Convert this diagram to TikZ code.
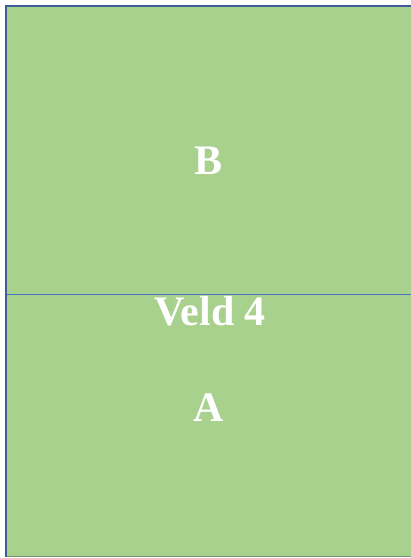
\documentclass[tikz,border=0pt]{standalone}
\usepackage{fontspec}
\setmainfont{Liberation Serif}
\definecolor{fieldgreen}{RGB}{169,209,142}
\definecolor{edgeblue}{RGB}{62,92,152}
\definecolor{splitblue}{RGB}{68,114,196}
\definecolor{basegray}{RGB}{118,146,116}

\begin{document}
\begin{tikzpicture}[
  x=1pt, y=-1pt,
  field/.style={fill=fieldgreen, draw=none},
  border/.style={draw=edgeblue, line width=2.2pt},
  split/.style={draw=splitblue, line width=1pt},
  label/.style={text=white, font=\fontsize{42}{46}\selectfont\bfseries, inner sep=0pt}
]
\useasboundingbox (0,0) rectangle (411,558);

% Field.
\fill[white] (0,0) rectangle (411,558);
\draw[field] (6,6) rectangle (411,556);
\draw[basegray, line width=1pt] (6,556.5) -- (411,556.5);
\draw[border] (6,557) -- (6,6) -- (411,6);

% Dividing line.
\coordinate (splitW) at (7,294);
\coordinate (splitE) at (411,294);
\draw[split] (splitW) -- (splitE);

% Labels.
\node[label] (veldB) at (209,161) {B};
\node[label] (veldname) at (210,311) {Veld 4};
\node[label] (veldA) at (209,408) {A};

\end{tikzpicture}
\end{document}
